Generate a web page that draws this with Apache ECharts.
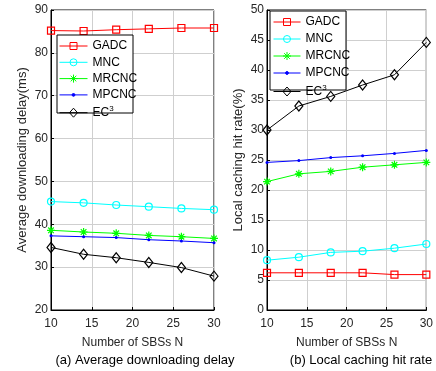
<!DOCTYPE html>
<html>
<head>
    <meta charset="utf-8">
    <script src="https://cdn.jsdelivr.net/npm/echarts@6/dist/echarts.min.js"></script>
    <style>
        body { margin: 0; background: #fff; }
        #main { width: 436px; height: 371px; }
    </style>
</head>
<body>
    <div id="main"></div>
</body>
<script>
    var sbs = [10, 14, 18, 22, 26, 30];
    var names = ['GADC', 'MNC', 'MRCNC', 'MPCNC', 'EC3'];

    // (a) average downloading delay (ms)
    var delayGADC = [85.2, 85.1, 85.4, 85.6, 85.8, 85.8];
    var delayMNC = [45.3, 45.0, 44.5, 44.1, 43.7, 43.4];
    var delayMRCNC = [38.6, 38.2, 37.9, 37.4, 37.1, 36.7];
    var delayMPCNC = [37.3, 37.1, 36.9, 36.4, 36.1, 35.7];
    var delayEC3 = [34.6, 33.0, 32.2, 31.1, 29.9, 27.9];

    // (b) local caching hit rate (%)
    var hitGADC = [6.2, 6.2, 6.2, 6.2, 5.9, 5.9];
    var hitMNC = [8.3, 8.8, 9.6, 9.8, 10.3, 11.0];
    var hitMRCNC = [21.4, 22.7, 23.1, 23.8, 24.2, 24.6];
    var hitMPCNC = [24.6, 24.9, 25.4, 25.7, 26.1, 26.6];
    var hitEC3 = [30.0, 34.0, 35.6, 37.5, 39.2, 44.6];

    var colors = ['#ff0000', '#00ffff', '#00ff00', '#0000ff', '#000000'];
    var asterisk = 'path://M0,-10L0,10M-10,0L10,0M-7,-7L7,7M-7,7L7,-7';
    var symbols = ['rect', 'circle', asterisk, 'circle', 'diamond'];
    var sizes = [7, 7, 8, 3, [8, 10]];
    var font = 'Liberation Sans, Arial, sans-serif';

    function pairs(vals) {
        return sbs.map(function (x, i) { return [x, vals[i]]; });
    }

    function makeSeries(list, idx) {
        return list.map(function (vals, k) {
            var hollow = k !== 3;
            return {
                name: names[k],
                type: 'line',
                xAxisIndex: idx,
                yAxisIndex: idx,
                data: pairs(vals),
                symbol: symbols[k],
                symbolSize: sizes[k],
                color: colors[k],
                lineStyle: { color: colors[k], width: 1 },
                itemStyle: hollow ? { color: 'rgba(0,0,0,0)', borderColor: colors[k], borderWidth: 1.2 } : { color: colors[k] },
                animation: false
            };
        });
    }

    // legend icon = short line with the marker in the middle, in a w x 10 box
    function legendIcon(k, w) {
        var c = w / 2, m;
        if (k === 0) m = 'M' + (c - 3.5) + ',1.5L' + (c + 3.5) + ',1.5L' + (c + 3.5) + ',8.5L' + (c - 3.5) + ',8.5Z';
        else if (k === 1) m = 'M' + (c + 3.5) + ',5A3.5,3.5,0,1,1,' + (c - 3.5) + ',5A3.5,3.5,0,1,1,' + (c + 3.5) + ',5Z';
        else if (k === 2) m = 'M' + c + ',1L' + c + ',9M' + (c - 4) + ',5L' + (c + 4) + ',5M' + (c - 2.8) + ',2.2L' + (c + 2.8) + ',7.8M' + (c - 2.8) + ',7.8L' + (c + 2.8) + ',2.2';
        else if (k === 3) m = 'M' + (c + 1.4) + ',5A1.4,1.4,0,1,1,' + (c - 1.4) + ',5A1.4,1.4,0,1,1,' + (c + 1.4) + ',5Z';
        else m = 'M' + c + ',0.5L' + (c + 4) + ',5L' + c + ',9.5L' + (c - 4) + ',5Z';
        return 'path://M0,0M' + w + ',10M0,5L' + w + ',5' + m;
    }

    function xAxis(idx) {
        return {
            type: 'value', gridIndex: idx, min: 10, max: 30, interval: 5,
            name: 'Number of SBSs N', nameLocation: 'middle', nameGap: 27,
            nameTextStyle: { color: '#262626', fontSize: 12, fontFamily: font },
            axisLine: { lineStyle: { color: '#000', width: 1 } },
            axisTick: { inside: true, length: 3, lineStyle: { color: '#000' } },
            axisLabel: { color: '#262626', fontSize: 12, fontFamily: font, margin: 8 },
            splitLine: { show: true, lineStyle: { color: '#cfcfcf', width: 1 } }
        };
    }

    function yAxis(idx, min, max, interval, name) {
        return {
            type: 'value', gridIndex: idx, min: min, max: max, interval: interval,
            name: name, nameLocation: 'middle', nameGap: 22,
            nameTextStyle: { color: '#262626', fontSize: 13, fontFamily: font },
            axisLine: { show: true, lineStyle: { color: '#000', width: 1 } },
            axisTick: { show: true, inside: true, length: 3, lineStyle: { color: '#000' } },
            axisLabel: { color: '#262626', fontSize: 12, fontFamily: font, margin: 3 },
            splitLine: { show: true, lineStyle: { color: '#cfcfcf', width: 1 } }
        };
    }

    function legend(left, top, gap, w) {
        return {
            orient: 'vertical', left: left, top: top, itemGap: gap, z: 10,
            itemWidth: w, itemHeight: 10, padding: 0, symbolKeepAspect: false,
            data: names.map(function (n, k) {
                return {
                    name: n,
                    icon: legendIcon(k, w),
                    itemStyle: { color: k === 3 ? colors[k] : 'rgba(0,0,0,0)', borderColor: colors[k], borderWidth: 1 }
                };
            }),
            textStyle: {
                color: '#000', fontSize: 12, fontFamily: font,
                rich: { sup: { fontSize: 8, fontFamily: font, color: '#000', verticalAlign: 'top', padding: [0, 0, 7, 0] } }
            },
            formatter: function (n) { return n === 'EC3' ? 'EC{sup|3}' : n; }
        };
    }

    var myChart = echarts.init(document.getElementById('main'));
    myChart.setOption({
        backgroundColor: '#fff',
        title: [
            { text: '(a) Average downloading delay', left: 140, top: 349, textAlign: 'center',
              textStyle: { fontSize: 13, fontWeight: 'normal', color: '#000', fontFamily: font } },
            { text: '(b) Local caching hit rate', left: 356, top: 349, textAlign: 'center',
              textStyle: { fontSize: 13, fontWeight: 'normal', color: '#000', fontFamily: font } }
        ],
        grid: [
            { left: 51, right: 222, top: 10, bottom: 61, show: true, borderColor: '#000', borderWidth: 1, backgroundColor: 'transparent' },
            { left: 267, right: 4, top: 10, bottom: 61, show: true, borderColor: '#000', borderWidth: 1, backgroundColor: 'transparent' }
        ],
        xAxis: [xAxis(0), xAxis(1)],
        yAxis: [
            yAxis(0, 20, 90, 10, 'Average downloading delay(ms)'),
            yAxis(1, 0, 50, 5, 'Local caching hit rate(%)')
        ],
        graphic: [
            { type: 'rect', shape: { x: 57, y: 35, width: 76, height: 78 }, z: 5,
              style: { fill: '#fff', stroke: '#000', lineWidth: 1 } },
            { type: 'rect', shape: { x: 270, y: 11, width: 76, height: 79 }, z: 5,
              style: { fill: '#fff', stroke: '#000', lineWidth: 1 } }
        ],
        legend: [legend(59, 40, 4.3, 28), legend(273, 16, 5, 27)],
        series: makeSeries([delayGADC, delayMNC, delayMRCNC, delayMPCNC, delayEC3], 0)
            .concat(makeSeries([hitGADC, hitMNC, hitMRCNC, hitMPCNC, hitEC3], 1))
    });
</script>
</html>
